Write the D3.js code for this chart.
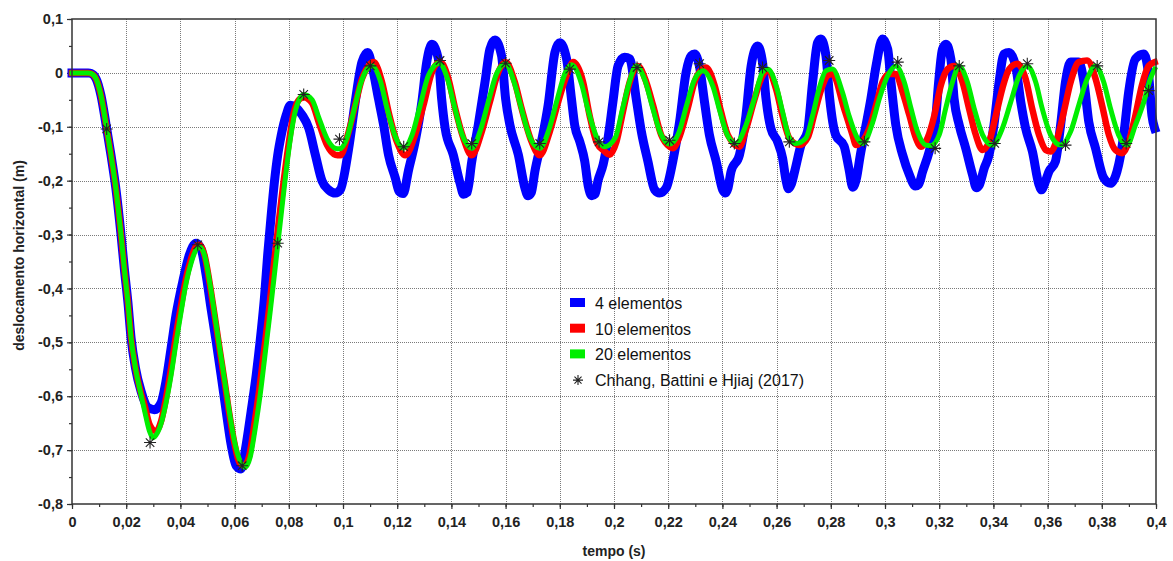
<!DOCTYPE html>
<html>
<head>
<meta charset="utf-8">
<script src="https://cdn.jsdelivr.net/npm/d3@7"></script>
<style>
  html, body { margin: 0; padding: 0; background: #fff; }
  svg { display: block; font-family: "Liberation Sans", Arial, sans-serif; }
</style>
</head>
<body>
<svg id="chart" width="1173" height="561"></svg>
<script>
// ---- data: horizontal displacement (m) versus time (s) ----
// 4 elementos
const tempo4 = [0, 0.002, 0.004, 0.006, 0.007, 0.0089, 0.0107, 0.0126, 0.0144, 0.0162, 0.0181, 0.0193, 0.0206, 0.0218, 0.0234, 0.0255, 0.028, 0.0304, 0.0329, 0.0347, 0.0366, 0.0384, 0.0409, 0.0433, 0.0458, 0.0476, 0.0495, 0.0513, 0.0532, 0.055, 0.0569, 0.0587, 0.0606, 0.0624, 0.0643, 0.0661, 0.068, 0.0698, 0.071, 0.0722, 0.0735, 0.0747, 0.0759, 0.0772, 0.079, 0.0806, 0.0849, 0.0874, 0.0898, 0.0923, 0.0947, 0.0972, 0.099, 0.1021, 0.1045, 0.107, 0.1091, 0.1107, 0.1131, 0.115, 0.1168, 0.1193, 0.1207, 0.1222, 0.1242, 0.1266, 0.1291, 0.1309, 0.1328, 0.1352, 0.1364, 0.1377, 0.1407, 0.1432, 0.1445, 0.1458, 0.1475, 0.1499, 0.1524, 0.1542, 0.1561, 0.1585, 0.16, 0.1616, 0.1647, 0.1671, 0.1683, 0.1695, 0.1708, 0.1732, 0.1757, 0.1782, 0.18, 0.1825, 0.1843, 0.1855, 0.1874, 0.1892, 0.1905, 0.1918, 0.193, 0.1941, 0.196, 0.1978, 0.1996, 0.2015, 0.2039, 0.2058, 0.2082, 0.2101, 0.2125, 0.215, 0.2168, 0.2193, 0.2217, 0.2242, 0.2266, 0.2285, 0.2297, 0.2315, 0.2334, 0.2352, 0.2377, 0.2401, 0.2411, 0.242, 0.2432, 0.2463, 0.2487, 0.2506, 0.253, 0.2548, 0.2561, 0.2579, 0.2604, 0.2622, 0.2635, 0.2644, 0.2654, 0.2668, 0.269, 0.2714, 0.2733, 0.2751, 0.2763, 0.2782, 0.2796, 0.2818, 0.2849, 0.2867, 0.2881, 0.2895, 0.2908, 0.293, 0.2948, 0.2967, 0.2991, 0.301, 0.3022, 0.304, 0.3065, 0.309, 0.3112, 0.3124, 0.3139, 0.3163, 0.3185, 0.3198, 0.3212, 0.3225, 0.3243, 0.3255, 0.3274, 0.3298, 0.3323, 0.3337, 0.3348, 0.3366, 0.3384, 0.3402, 0.3421, 0.3439, 0.3458, 0.3482, 0.3501, 0.3519, 0.3544, 0.3568, 0.3578, 0.3588, 0.3605, 0.3629, 0.3648, 0.3666, 0.3685, 0.3715, 0.3734, 0.3752, 0.3777, 0.3807, 0.3832, 0.3856, 0.3881, 0.3899, 0.3924, 0.3955, 0.3973, 0.3985, 0.3995];
const desloc4 = [0, 0, 0, 0, -0.001, -0.011, -0.042, -0.097, -0.153, -0.215, -0.301, -0.363, -0.424, -0.492, -0.547, -0.591, -0.621, -0.625, -0.612, -0.572, -0.51, -0.449, -0.387, -0.338, -0.316, -0.326, -0.375, -0.437, -0.498, -0.56, -0.628, -0.689, -0.729, -0.735, -0.689, -0.628, -0.56, -0.48, -0.418, -0.338, -0.264, -0.202, -0.153, -0.116, -0.079, -0.06, -0.078, -0.103, -0.152, -0.201, -0.217, -0.223, -0.217, -0.14, -0.054, 0.02, 0.038, 0.013, -0.048, -0.097, -0.152, -0.195, -0.22, -0.224, -0.18, -0.128, -0.054, 0.02, 0.053, 0.026, -0.048, -0.103, -0.152, -0.205, -0.225, -0.222, -0.165, -0.097, -0.017, 0.044, 0.061, 0.032, -0.048, -0.097, -0.152, -0.213, -0.228, -0.222, -0.183, -0.128, -0.06, 0.038, 0.056, 0.026, -0.048, -0.097, -0.128, -0.164, -0.21, -0.228, -0.225, -0.2, -0.17, -0.121, -0.054, 0.013, 0.029, 0.026, -0.048, -0.109, -0.164, -0.217, -0.223, -0.213, -0.164, -0.091, 0.001, 0.032, 0.035, 0.013, -0.054, -0.115, -0.164, -0.217, -0.223, -0.215, -0.183, -0.152, -0.079, 0.013, 0.05, 0.02, -0.048, -0.103, -0.128, -0.158, -0.2, -0.215, -0.207, -0.18, -0.134, -0.109, -0.017, 0.056, 0.063, 0.032, -0.048, -0.115, -0.136, -0.178, -0.212, -0.195, -0.155, -0.097, -0.048, 0.013, 0.063, 0.044, -0.017, -0.097, -0.152, -0.189, -0.21, -0.207, -0.183, -0.146, -0.097, -0.017, 0.044, 0.053, 0.026, -0.048, -0.097, -0.14, -0.189, -0.213, -0.208, -0.177, -0.152, -0.097, -0.017, 0.035, 0.038, 0.013, -0.054, -0.103, -0.146, -0.207, -0.217, -0.207, -0.183, -0.164, -0.097, -0.017, 0.02, 0.02, -0.017, -0.091, -0.14, -0.195, -0.205, -0.183, -0.115, -0.036, 0.026, 0.035, -0.005, -0.079, -0.103];

// 10 elementos
const tempo10 = [0, 0.002, 0.004, 0.006, 0.007, 0.0089, 0.0107, 0.0126, 0.0144, 0.0162, 0.0181, 0.0193, 0.0206, 0.0218, 0.0234, 0.0255, 0.0267, 0.0286, 0.031, 0.0329, 0.0347, 0.0366, 0.0384, 0.0403, 0.0421, 0.044, 0.0458, 0.047, 0.0489, 0.0507, 0.0526, 0.0544, 0.0563, 0.0581, 0.06, 0.0618, 0.0636, 0.0655, 0.0673, 0.0692, 0.071, 0.0729, 0.0745, 0.0762, 0.078, 0.08, 0.0818, 0.0837, 0.0855, 0.0886, 0.091, 0.0941, 0.0972, 0.099, 0.1021, 0.1045, 0.107, 0.1094, 0.1113, 0.1144, 0.1168, 0.1199, 0.123, 0.1266, 0.1297, 0.1328, 0.1359, 0.1389, 0.1414, 0.1444, 0.1475, 0.1512, 0.1542, 0.1573, 0.16, 0.1634, 0.1659, 0.1696, 0.1726, 0.1763, 0.1794, 0.1825, 0.185, 0.1886, 0.191, 0.1935, 0.1966, 0.1984, 0.2009, 0.2033, 0.2058, 0.2088, 0.2119, 0.2144, 0.2174, 0.2205, 0.2217, 0.2242, 0.2272, 0.2297, 0.2321, 0.234, 0.2371, 0.2395, 0.242, 0.2463, 0.2487, 0.2518, 0.2548, 0.2567, 0.2598, 0.2622, 0.2647, 0.2685, 0.2715, 0.274, 0.2765, 0.279, 0.2806, 0.2849, 0.288, 0.2893, 0.2942, 0.2967, 0.2991, 0.3016, 0.304, 0.3065, 0.309, 0.3114, 0.3133, 0.3157, 0.3182, 0.3206, 0.3231, 0.3255, 0.3286, 0.331, 0.3335, 0.336, 0.3384, 0.3409, 0.3433, 0.3458, 0.3488, 0.3519, 0.3543, 0.3568, 0.3593, 0.3611, 0.3636, 0.366, 0.3685, 0.3715, 0.3746, 0.3777, 0.3801, 0.3826, 0.385, 0.3875, 0.3899, 0.3924, 0.3948, 0.3973, 0.3995];
const desloc10 = [0, 0, 0, 0, -0.001, -0.011, -0.042, -0.097, -0.153, -0.215, -0.301, -0.363, -0.424, -0.492, -0.547, -0.595, -0.615, -0.652, -0.665, -0.646, -0.603, -0.547, -0.486, -0.43, -0.381, -0.344, -0.322, -0.319, -0.338, -0.387, -0.449, -0.51, -0.572, -0.634, -0.689, -0.723, -0.729, -0.708, -0.652, -0.584, -0.51, -0.43, -0.355, -0.28, -0.205, -0.13, -0.075, -0.05, -0.045, -0.056, -0.091, -0.134, -0.152, -0.153, -0.109, -0.06, -0.011, 0.013, 0.02, -0.017, -0.072, -0.128, -0.153, -0.115, -0.06, 0.001, 0.02, -0.011, -0.066, -0.121, -0.153, -0.109, -0.054, 0.001, 0.02, -0.017, -0.066, -0.128, -0.153, -0.109, -0.054, -0.005, 0.02, -0.017, -0.079, -0.128, -0.146, -0.152, -0.128, -0.072, -0.017, 0.013, -0.017, -0.06, -0.115, -0.137, -0.14, -0.118, -0.066, -0.017, 0.005, 0.01, -0.023, -0.072, -0.115, -0.137, -0.105, -0.05, -0.005, 0.004, -0.03, -0.08, -0.121, -0.134, -0.12, -0.075, -0.03, -0.004, -0.002, -0.066, -0.115, -0.134, -0.103, -0.06, -0.017, -0.002, -0.002, -0.036, -0.079, -0.121, -0.137, -0.121, -0.079, -0.023, 0.007, 0.013, -0.017, -0.066, -0.115, -0.143, -0.128, -0.079, -0.029, 0.007, 0.017, -0.011, -0.066, -0.115, -0.143, -0.146, -0.121, -0.072, -0.017, 0.02, 0.023, -0.011, -0.06, -0.115, -0.143, -0.149, -0.128, -0.079, -0.023, 0.013, 0.02];

// 20 elementos
const tempo20 = [0, 0.002, 0.004, 0.006, 0.007, 0.0089, 0.0107, 0.0126, 0.0144, 0.0162, 0.0181, 0.0193, 0.0206, 0.0218, 0.0234, 0.0255, 0.0267, 0.0286, 0.0298, 0.031, 0.0329, 0.0347, 0.0366, 0.0384, 0.0403, 0.0421, 0.044, 0.0458, 0.0472, 0.049, 0.0507, 0.0526, 0.0544, 0.0563, 0.0581, 0.06, 0.062, 0.0638, 0.0658, 0.0676, 0.0695, 0.0713, 0.0732, 0.075, 0.0768, 0.0786, 0.0805, 0.0822, 0.084, 0.0855, 0.0886, 0.091, 0.0941, 0.0972, 0.0987, 0.1015, 0.104, 0.1065, 0.109, 0.1107, 0.1138, 0.1162, 0.1193, 0.1224, 0.1255, 0.1285, 0.1315, 0.1355, 0.1385, 0.141, 0.144, 0.1475, 0.1508, 0.1538, 0.1568, 0.16, 0.163, 0.1655, 0.169, 0.1726, 0.176, 0.179, 0.182, 0.1843, 0.188, 0.1905, 0.1941, 0.1966, 0.2005, 0.203, 0.2055, 0.2082, 0.2115, 0.214, 0.217, 0.2205, 0.224, 0.2268, 0.2295, 0.2328, 0.2365, 0.239, 0.2418, 0.245, 0.2487, 0.2518, 0.2548, 0.2567, 0.2598, 0.2622, 0.2647, 0.2671, 0.2708, 0.2733, 0.2757, 0.2782, 0.2806, 0.2843, 0.2867, 0.2898, 0.2918, 0.2955, 0.2979, 0.301, 0.304, 0.3071, 0.3096, 0.312, 0.3151, 0.3169, 0.32, 0.3224, 0.3249, 0.3273, 0.3304, 0.3329, 0.336, 0.3396, 0.3433, 0.3464, 0.3495, 0.3525, 0.3556, 0.358, 0.3611, 0.3648, 0.3685, 0.3715, 0.3746, 0.3777, 0.3807, 0.3832, 0.3862, 0.3893, 0.3924, 0.3955, 0.3979, 0.3995];
const desloc20 = [0, 0, 0, 0, -0.001, -0.011, -0.042, -0.097, -0.153, -0.215, -0.301, -0.363, -0.424, -0.492, -0.547, -0.598, -0.625, -0.665, -0.677, -0.672, -0.65, -0.612, -0.56, -0.5, -0.442, -0.39, -0.352, -0.328, -0.323, -0.34, -0.385, -0.447, -0.508, -0.57, -0.63, -0.685, -0.72, -0.732, -0.712, -0.66, -0.595, -0.52, -0.44, -0.36, -0.28, -0.2, -0.125, -0.075, -0.048, -0.04, -0.05, -0.082, -0.122, -0.14, -0.141, -0.12, -0.07, -0.02, 0.008, 0.013, -0.015, -0.065, -0.118, -0.14, -0.115, -0.06, -0.005, 0.018, -0.01, -0.06, -0.115, -0.14, -0.105, -0.05, 0, 0.017, -0.015, -0.06, -0.12, -0.14, -0.105, -0.05, 0, 0.015, -0.02, -0.07, -0.125, -0.137, -0.12, -0.07, -0.02, 0.013, -0.015, -0.06, -0.11, -0.132, -0.11, -0.06, -0.015, 0.004, -0.025, -0.07, -0.115, -0.131, -0.097, -0.048, 0.001, 0.007, -0.023, -0.072, -0.121, -0.131, -0.121, -0.079, -0.029, 0.004, 0.007, -0.036, -0.079, -0.121, -0.131, -0.091, -0.048, -0.005, 0.013, -0.017, -0.066, -0.109, -0.134, -0.135, -0.115, -0.066, -0.017, 0.013, -0.017, -0.066, -0.115, -0.134, -0.103, -0.054, -0.005, 0.013, -0.017, -0.066, -0.115, -0.134, -0.109, -0.06, -0.011, 0.013, -0.017, -0.066, -0.115, -0.134, -0.097, -0.054, -0.011, 0.007];

// Chhang, Battini e Hjiaj (2017)
const tempoRef = [0.0128, 0.0288, 0.0464, 0.0628, 0.0759, 0.0855, 0.0987, 0.1101, 0.1224, 0.1358, 0.1475, 0.16, 0.1726, 0.1837, 0.1945, 0.2085, 0.2205, 0.2316, 0.2444, 0.2548, 0.2647, 0.2794, 0.2924, 0.3047, 0.3185, 0.3274, 0.3405, 0.3525, 0.3666, 0.3783, 0.389, 0.3973];
const deslocRef = [-0.104, -0.686, -0.319, -0.729, -0.316, -0.04, -0.123, 0.013, -0.137, 0.023, -0.131, 0.018, -0.131, 0.007, -0.128, 0.01, -0.125, 0.017, -0.131, 0.01, -0.128, 0.023, -0.128, 0.02, -0.14, 0.013, -0.131, 0.017, -0.134, 0.013, -0.131, -0.033];

// axes
const xTickValues = [0, 0.02, 0.04, 0.06, 0.08, 0.1, 0.12, 0.14, 0.16, 0.18, 0.2, 0.22, 0.24, 0.26, 0.28, 0.3, 0.32, 0.34, 0.36, 0.38, 0.4];
const xTickLabels = ["0", "0,02", "0,04", "0,06", "0,08", "0,1", "0,12", "0,14", "0,16", "0,18", "0,2", "0,22", "0,24", "0,26", "0,28", "0,3", "0,32", "0,34", "0,36", "0,38", "0,4"];
const yTickValues = [-0.8, -0.7, -0.6, -0.5, -0.4, -0.3, -0.2, -0.1, 0, 0.1];
const yTickLabels = ["-0,8", "-0,7", "-0,6", "-0,5", "-0,4", "-0,3", "-0,2", "-0,1", "0", "0,1"];

const seriesNames = ["4 elementos", "10 elementos", "20 elementos", "Chhang, Battini e Hjiaj (2017)"];
const seriesColors = ["#0000ff", "#ff0000", "#00ee00", "#222222"];

// ---- layout ----
const svg = d3.select("#chart");
const W = 1173, H = 561;
const m = { left: 72, right: 17, top: 19, bottom: 57 };
const pw = W - m.left - m.right, ph = H - m.top - m.bottom;

const x = d3.scaleLinear().domain([0, 0.4]).range([m.left, m.left + pw]);
const y = d3.scaleLinear().domain([-0.8, 0.1]).range([m.top + ph, m.top]);

const g = svg.append("g");

// dotted grid
const grid = g.append("g").attr("stroke", "#7a7a7a").attr("stroke-width", 1).attr("stroke-dasharray", "1,1");
grid.selectAll("line.gx").data(xTickValues.slice(1, -1)).join("line")
  .attr("x1", d => Math.round(x(d)) + 0.5).attr("x2", d => Math.round(x(d)) + 0.5)
  .attr("y1", m.top).attr("y2", m.top + ph);
grid.selectAll("line.gy").data(yTickValues.slice(1, -1)).join("line")
  .attr("y1", d => Math.round(y(d)) + 0.5).attr("y2", d => Math.round(y(d)) + 0.5)
  .attr("x1", m.left).attr("x2", m.left + pw);

// axes with major and minor ticks
const fmtX = d => xTickLabels[xTickValues.findIndex(v => Math.abs(v - d) < 1e-9)];
const fmtY = d => yTickLabels[yTickValues.findIndex(v => Math.abs(v - d) < 1e-9)];

const xMinor = d3.range(0, 41).map(i => i / 100);
const yMinor = d3.range(0, 19).map(i => -0.8 + i * 0.05);

const xAxisMinor = g.append("g").attr("transform", `translate(0,${m.top + ph})`)
  .call(d3.axisBottom(x).tickValues(xMinor).tickSize(3).tickFormat(""));
const xAxis = g.append("g").attr("transform", `translate(0,${m.top + ph})`)
  .call(d3.axisBottom(x).tickValues(xTickValues).tickSize(5).tickPadding(8).tickFormat(fmtX));
const yAxisMinor = g.append("g").attr("transform", `translate(${m.left},0)`)
  .call(d3.axisLeft(y).tickValues(yMinor).tickSize(3).tickFormat(""));
const yAxis = g.append("g").attr("transform", `translate(${m.left},0)`)
  .call(d3.axisLeft(y).tickValues(yTickValues).tickSize(5).tickPadding(4).tickFormat(fmtY));

[xAxisMinor, xAxis, yAxisMinor, yAxis].forEach(a => {
  a.select(".domain").remove();
  a.selectAll(".tick line").attr("stroke", "#333").attr("stroke-width", 1.2);
  a.selectAll(".tick text").attr("fill", "#222").attr("font-size", 14.5).attr("font-weight", "bold")
    .attr("font-family", "'Liberation Sans', Arial, sans-serif");
});

// series curves
const toPts = (ts, vs) => ts.map((t, i) => [t, vs[i]]);
const line = d3.line().x(d => x(d[0])).y(d => y(d[1])).curve(d3.curveMonotoneX);

const plot = g.append("g");
const curves = [
  { pts: toPts(tempo4, desloc4), color: seriesColors[0], w: 9 },
  { pts: toPts(tempo10, desloc10), color: seriesColors[1], w: 6.5 },
  { pts: toPts(tempo20, desloc20), color: seriesColors[2], w: 5 }
];
plot.selectAll("path.curve").data(curves).join("path")
  .attr("class", "curve")
  .attr("d", d => line(d.pts))
  .attr("fill", "none")
  .attr("stroke", d => d.color)
  .attr("stroke-width", d => d.w)
  .attr("stroke-linejoin", "round")
  .attr("stroke-linecap", "square");

// asterisk marker (8 spokes)
function asterisk(r) {
  const p = d3.path();
  const k = r * Math.SQRT1_2;
  p.moveTo(-r, 0); p.lineTo(r, 0);
  p.moveTo(0, -r); p.lineTo(0, r);
  p.moveTo(-k, -k); p.lineTo(k, k);
  p.moveTo(-k, k); p.lineTo(k, -k);
  return p.toString();
}
plot.selectAll("path.ref").data(toPts(tempoRef, deslocRef)).join("path")
  .attr("class", "ref")
  .attr("transform", d => `translate(${x(d[0])},${y(d[1])})`)
  .attr("d", asterisk(6))
  .attr("fill", "none")
  .attr("stroke", seriesColors[3])
  .attr("stroke-width", 1.1);

// frame
g.append("rect")
  .attr("x", m.left).attr("y", m.top).attr("width", pw).attr("height", ph)
  .attr("fill", "none").attr("stroke", "#333").attr("stroke-width", 1.5);

// axis titles
g.append("text")
  .attr("x", m.left + pw / 2).attr("y", 556)
  .attr("text-anchor", "middle").attr("font-size", 14).attr("font-weight", "bold").attr("fill", "#222")
  .text("tempo (s)");
g.append("text")
  .attr("transform", `translate(24,${m.top + ph / 2 - 6}) rotate(-90)`)
  .attr("text-anchor", "middle").attr("font-size", 14).attr("font-weight", "bold").attr("fill", "#222")
  .text("deslocamento horizontal (m)");

// legend
const legend = g.append("g").attr("transform", "translate(570,303)");
const rows = legend.selectAll("g").data(seriesNames).join("g")
  .attr("transform", (d, i) => `translate(0,${i * 25.7})`);
rows.filter((d, i) => i < 3).append("rect")
  .attr("x", 0).attr("y", -5).attr("width", 15).attr("height", 9)
  .attr("fill", (d, i) => seriesColors[i]);
rows.filter((d, i) => i === 3).append("path")
  .attr("transform", "translate(8,0)")
  .attr("d", asterisk(5))
  .attr("fill", "none").attr("stroke", seriesColors[3]).attr("stroke-width", 1.1);
rows.append("text")
  .attr("x", 25).attr("y", 6)
  .attr("font-size", 16).attr("fill", "#111")
  .text(d => d);
</script>
</body>
</html>
